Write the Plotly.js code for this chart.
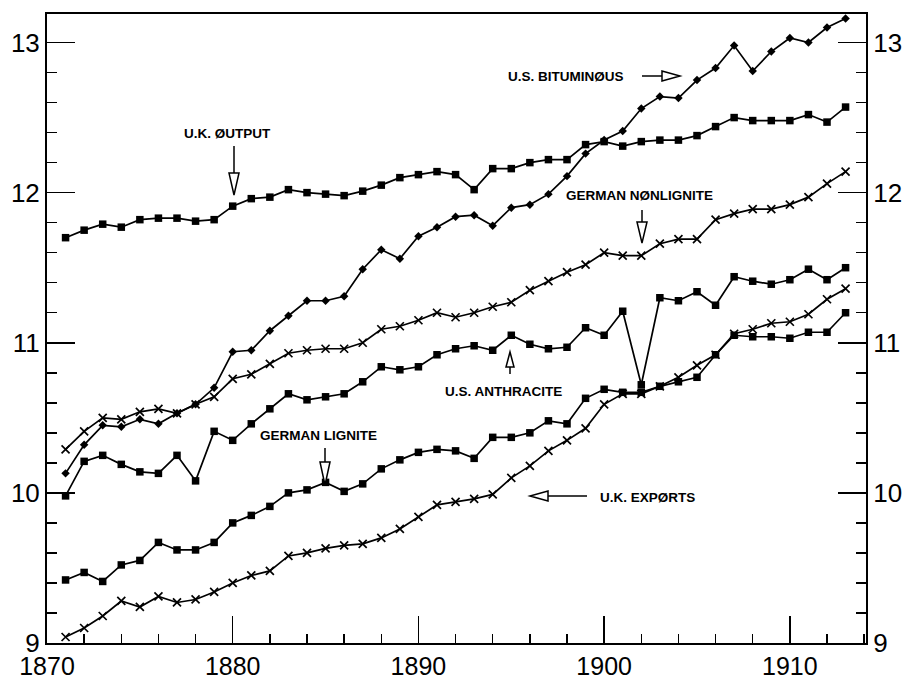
<!DOCTYPE html>
<html>
<head>
<meta charset="utf-8">
<script src="https://cdn.plot.ly/plotly-3.0.1.min.js"></script>
<style>
  html, body { margin: 0; padding: 0; background: #fff; }
  #chart { width: 905px; height: 682px; }
</style>
</head>
<body>
<div id="chart"></div>
<script>
// ---------- DATA ----------
const years = [1871,1872,1873,1874,1875,1876,1877,1878,1879,1880,
               1881,1882,1883,1884,1885,1886,1887,1888,1889,1890,
               1891,1892,1893,1894,1895,1896,1897,1898,1899,1900,
               1901,1902,1903,1904,1905,1906,1907,1908,1909,1910,
               1911,1912,1913];

const ukOutput = [11.70,11.75,11.79,11.77,11.82,11.83,11.83,11.81,11.82,11.91,
                  11.96,11.97,12.02,12.00,11.99,11.98,12.01,12.05,12.10,12.12,
                  12.14,12.12,12.02,12.16,12.16,12.20,12.22,12.22,12.32,12.34,
                  12.31,12.34,12.35,12.35,12.38,12.44,12.50,12.48,12.48,12.48,
                  12.52,12.47,12.57];

const usBituminous = [10.13,10.32,10.45,10.44,10.49,10.46,10.53,10.59,10.70,10.94,
                      10.95,11.08,11.18,11.28,11.28,11.31,11.49,11.62,11.56,11.71,
                      11.77,11.84,11.85,11.78,11.90,11.92,11.99,12.11,12.26,12.35,
                      12.41,12.56,12.64,12.63,12.75,12.83,12.98,12.81,12.94,13.03,
                      13.00,13.10,13.16];

const germanNonlignite = [10.29,10.41,10.50,10.49,10.54,10.56,10.53,10.59,10.64,10.76,
                          10.79,10.86,10.93,10.95,10.96,10.96,11.00,11.09,11.11,11.15,
                          11.20,11.17,11.20,11.24,11.27,11.35,11.41,11.47,11.52,11.60,
                          11.58,11.58,11.66,11.69,11.69,11.82,11.86,11.89,11.89,11.92,
                          11.97,12.06,12.14];

const usAnthracite = [9.98,10.21,10.25,10.19,10.14,10.13,10.25,10.08,10.41,10.35,
                      10.46,10.56,10.66,10.62,10.64,10.66,10.74,10.84,10.82,10.84,
                      10.92,10.96,10.98,10.95,11.05,10.99,10.96,10.97,11.10,11.05,
                      11.21,10.72,11.30,11.28,11.34,11.25,11.44,11.41,11.39,11.42,
                      11.49,11.42,11.50];

const germanLignite = [9.42,9.47,9.41,9.52,9.55,9.67,9.62,9.62,9.67,9.80,
                       9.85,9.91,10.00,10.02,10.07,10.01,10.06,10.16,10.22,10.27,
                       10.29,10.28,10.23,10.37,10.37,10.40,10.48,10.46,10.63,10.69,
                       10.67,10.67,10.71,10.74,10.77,10.92,11.05,11.04,11.04,11.03,
                       11.07,11.07,11.20];

const ukExports = [9.04,9.10,9.18,9.28,9.24,9.31,9.27,9.29,9.34,9.40,
                   9.45,9.48,9.58,9.60,9.63,9.65,9.66,9.70,9.76,9.84,
                   9.92,9.94,9.96,9.99,10.10,10.18,10.28,10.35,10.43,10.59,
                   10.66,10.66,10.71,10.77,10.85,10.92,11.06,11.09,11.13,11.14,
                   11.19,11.29,11.36];

const xTickVals = [1870,1880,1890,1900,1910];
const xTickText = ['1870','1880','1890','1900','1910'];
const yTickVals = [9,10,11,12,13];
const yTickText = ['9','10','11','12','13'];

const labels = ['U.K. ØUTPUT','U.S. BITUMINØUS','GERMAN NØNLIGNITE',
                'U.S. ANTHRACITE','GERMAN LIGNITE','U.K. EXPØRTS'];

// ---------- LAYOUT GEOMETRY ----------
const M = {l:47, r:39, t:14, b:39};
const W = 905, H = 682;
const XR = [1870, 1914.1];
const YR = [9, 13.19];
const pw = W - M.l - M.r, ph = H - M.t - M.b;
const px2x = p => XR[0] + (p - M.l) / pw * (XR[1]-XR[0]);
const px2y = p => YR[0] + (H - M.b - p) / ph * (YR[1]-YR[0]);

// ---------- TRACES ----------
function series(y, sym, size, lw) {
  return {
    x: years, y: y, type: 'scatter', mode: 'lines+markers',
    line: {color: '#000', width: 1.7},
    marker: {symbol: sym, size: size, color: '#000',
             line: {color: '#000', width: lw}},
    showlegend: false, hoverinfo: 'skip'
  };
}
const traces = [
  series(ukOutput, 'square', 7.5, 0),
  series(usBituminous, 'diamond', 6.5, 0),
  series(germanNonlignite, 'x-thin', 8, 1.7),
  series(usAnthracite, 'square', 7.5, 0),
  series(germanLignite, 'square', 7.5, 0),
  series(ukExports, 'x-thin', 8, 1.7),
  {x: [], y: [], yaxis: 'y2', type: 'scatter', showlegend: false}
];

// ---------- ARROWS (annotation graphics) ----------
const shapes = [];
const LN = {color: '#000', width: 1.5};
function vArrow(xp, yStart, yBase, yTip, hw) {
  shapes.push({type: 'line', xref: 'x', yref: 'y',
    x0: px2x(xp), x1: px2x(xp), y0: px2y(yStart), y1: px2y(yBase), line: LN});
  shapes.push({type: 'path', xref: 'x', yref: 'y', fillcolor: '#fff', line: LN,
    path: `M ${px2x(xp-hw)} ${px2y(yBase)} L ${px2x(xp+hw)} ${px2y(yBase)} L ${px2x(xp)} ${px2y(yTip)} Z`});
}
function hArrow(yp, xStart, xBase, xTip, hh) {
  shapes.push({type: 'line', xref: 'x', yref: 'y',
    x0: px2x(xStart), x1: px2x(xBase), y0: px2y(yp), y1: px2y(yp), line: LN});
  shapes.push({type: 'path', xref: 'x', yref: 'y', fillcolor: '#fff', line: LN,
    path: `M ${px2x(xBase)} ${px2y(yp-hh)} L ${px2x(xBase)} ${px2y(yp+hh)} L ${px2x(xTip)} ${px2y(yp)} Z`});
}
vArrow(234, 146, 173, 195, 5);     // U.K. output
hArrow(76, 642, 662, 680, 5);      // U.S. bituminous
vArrow(642, 210, 222, 243, 5);     // German nonlignite
vArrow(510, 374, 367, 352, 4);     // U.S. anthracite
vArrow(325, 448, 462, 485, 5);     // German lignite
hArrow(496, 587, 548, 530, 5);     // U.K. exports

const labelPos = [[227,133],[566,76],[639,195],[503,391],[318,435],[647,497]];
const annotations = labels.map((t, i) => ({
  text: t, x: px2x(labelPos[i][0]), y: px2y(labelPos[i][1]),
  xref: 'x', yref: 'y', showarrow: false, xanchor: 'center', yanchor: 'middle',
  font: {family: 'Liberation Sans', size: 13.5, color: '#000', weight: 'bold'}
}));

const tickFont = {family: 'Liberation Sans', size: 26, color: '#000'};
const layout = {
  width: W, height: H, margin: M,
  paper_bgcolor: '#fff', plot_bgcolor: '#fff',
  showlegend: false,
  xaxis: {
    range: XR, showgrid: false, zeroline: false,
    showline: true, linecolor: '#000', linewidth: 2, mirror: true,
    tickmode: 'array', tickvals: xTickVals, ticktext: xTickText,
    ticks: 'inside', ticklen: 27, tickwidth: 1.5, tickcolor: '#000',
    minor: {tickmode: 'linear', tick0: 1870, dtick: 2, ticks: 'inside', ticklen: 9,
            tickwidth: 1.5, tickcolor: '#000', showgrid: false},
    tickfont: {family: 'Liberation Sans', size: 25, color: '#000'}
  },
  yaxis: {
    range: YR, showgrid: false, zeroline: false,
    showline: true, linecolor: '#000', linewidth: 2,
    tickmode: 'array', tickvals: yTickVals, ticktext: yTickText,
    ticks: 'inside', ticklen: 28, tickwidth: 1.5, tickcolor: '#000',
    minor: {tickmode: 'linear', tick0: 9, dtick: 0.2, ticks: 'inside', ticklen: 10,
            tickwidth: 1.5, tickcolor: '#000', showgrid: false},
    tickfont: tickFont
  },
  yaxis2: {
    range: YR, overlaying: 'y', side: 'right', showgrid: false, zeroline: false,
    showline: true, linecolor: '#000', linewidth: 2,
    tickmode: 'array', tickvals: yTickVals, ticktext: yTickText,
    ticks: 'inside', ticklen: 28, tickwidth: 1.5, tickcolor: '#000',
    minor: {tickmode: 'linear', tick0: 9, dtick: 0.2, ticks: 'inside', ticklen: 10,
            tickwidth: 1.5, tickcolor: '#000', showgrid: false},
    tickfont: tickFont
  },
  shapes: shapes,
  annotations: annotations
};

Plotly.newPlot('chart', traces, layout, {displayModeBar: false, staticPlot: true});
</script>
</body>
</html>
